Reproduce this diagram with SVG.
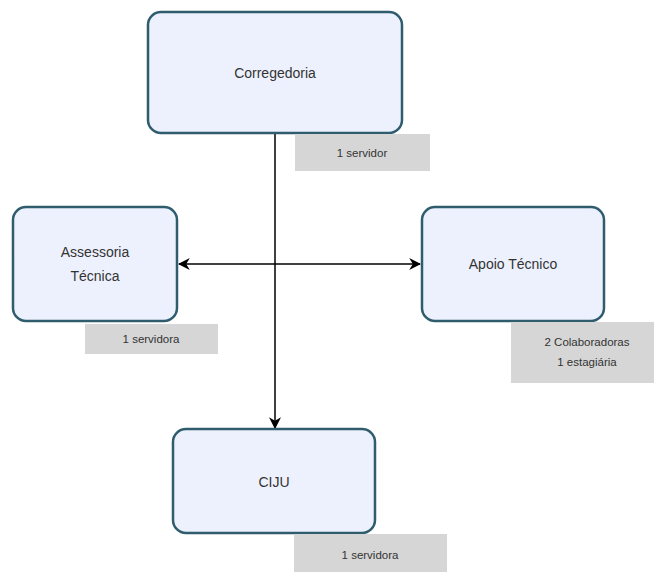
<svg xmlns="http://www.w3.org/2000/svg" width="654" height="572" viewBox="0 0 654 572">
<style>
.node rect{fill:#edf1fd;stroke:#2f5d6e;stroke-width:2.5}
.node text{font-family:"Liberation Sans",Arial,sans-serif;font-size:14px;fill:#333;text-anchor:middle}
.lbl rect{fill:#d6d6d6;stroke:none}
.lbl text{font-family:"Liberation Sans",Arial,sans-serif;font-size:11.5px;fill:#333;text-anchor:middle}
.conn line{stroke:#000;stroke-width:1.5}
</style>
<defs>
<marker id="ah" viewBox="0 0 10 10" refX="9" refY="5" markerWidth="12" markerHeight="12" orient="auto-start-reverse" markerUnits="userSpaceOnUse"><path d="M0,0 L10,5 L0,10 L3,5 Z" fill="#000"/></marker>
</defs>
<rect width="654" height="572" fill="#fff"/>
<g class="conn" id="connectors">
<line x1="275" y1="134" x2="275" y2="428" marker-end="url(#ah)"/>
<line x1="179" y1="264" x2="420" y2="264" marker-start="url(#ah)" marker-end="url(#ah)"/>
</g>
<g class="node" id="corregedoria"><rect x="148" y="12" width="254" height="121" rx="13"/><text x="275" y="78">Corregedoria</text></g>
<g class="lbl" id="lbl-corregedoria"><rect x="295" y="134" width="135" height="37"/><text x="362" y="157">1 servidor</text></g>
<g class="node" id="assessoria"><rect x="13" y="207" width="164" height="114" rx="13"/><text x="95" y="257">Assessoria</text><text x="95" y="281">Técnica</text></g>
<g class="lbl" id="lbl-assessoria"><rect x="85" y="324" width="133" height="30"/><text x="151" y="343">1 servidora</text></g>
<g class="node" id="apoio"><rect x="422" y="207" width="182" height="114" rx="13"/><text x="513" y="269">Apoio Técnico</text></g>
<g class="lbl" id="lbl-apoio"><rect x="511" y="322" width="143" height="61"/><text x="587" y="346">2 Colaboradoras</text><text x="587" y="366">1 estagiária</text></g>
<g class="node" id="ciju"><rect x="173" y="429" width="202" height="104" rx="13"/><text x="274" y="487">CIJU</text></g>
<g class="lbl" id="lbl-ciju"><rect x="294" y="534" width="153" height="38"/><text x="370" y="559">1 servidora</text></g>
</svg>
